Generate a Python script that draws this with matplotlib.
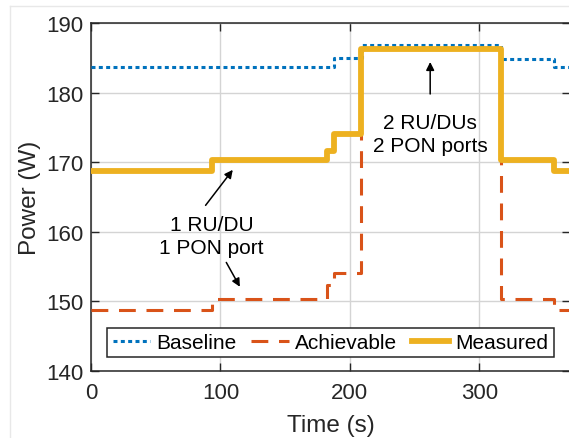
import matplotlib.pyplot as plt
from matplotlib.lines import Line2D

plt.rcParams['font.family'] = ['Liberation Sans', 'DejaVu Sans']

# step breakpoints (time in s, power in W)
t_base = [0, 188, 209, 317, 358, 370]
p_base = [183.7, 184.9, 186.8, 184.8, 183.7, 183.7]

t_ach = [0, 93.5, 182, 188, 208.5, 317, 358, 370]
p_ach = [148.8, 150.3, 152.3, 154.1, 186.3, 150.3, 148.8, 148.8]

t_meas = [0, 93.5, 182, 188, 208.5, 317, 358, 370]
p_meas = [168.8, 170.3, 171.6, 174.0, 186.3, 170.3, 168.8, 168.8]

W, H = 569, 439
fig = plt.figure(figsize=(W / 100, H / 100), dpi=100)
ax = fig.add_axes([91 / W, 1 - 372 / H, (570 - 91) / W, (372 - 24) / H])

ax.plot(t_base, p_base, drawstyle='steps-post', color='#0072BD', lw=2.2,
        linestyle=(0, (1.3, 1.1)), label='Baseline', zorder=3)
ax.plot(t_ach, p_ach, drawstyle='steps-post', color='#D95319', lw=2.2,
        linestyle=(0, (5.5, 3.5)), label='Achievable', zorder=3)
ax.plot(t_meas, p_meas, drawstyle='steps-post', color='#EDB120', lw=4.2,
        label='Measured', zorder=4)

ax.set_xlim(0, 370)
ax.set_ylim(140, 190)
ax.set_xticks([0, 100, 200, 300])
ax.set_yticks([140, 150, 160, 170, 180, 190])
ax.grid(True, color='#d4d4d4', lw=1)
ax.set_axisbelow(True)
ax.tick_params(direction='in', length=6, width=1, top=True, right=True,
               labelsize=16, colors='#262626')
ax.tick_params(axis='x', pad=8)
ax.tick_params(axis='y', pad=5.5)
for s in ax.spines.values():
    s.set_color('#262626')
    s.set_linewidth(1.1)

ax.set_xlabel('Time (s)', fontsize=17.5, color='#262626', labelpad=8)
ax.set_ylabel('Power (W)', fontsize=17.5, color='#262626', labelpad=4)

arr = dict(arrowstyle='-|>', color='black', lw=1.1, mutation_scale=12,
           shrinkA=0, shrinkB=0)
ax.annotate('', xy=(262, 184.4), xytext=(262, 179.8), arrowprops=arr)
ax.text(262, 174.1, '2 RU/DUs\n2 PON ports', ha='center', va='center',
        fontsize=15, linespacing=1.25)

ax.annotate('', xy=(109.5, 168.9), xytext=(88.5, 163.8), arrowprops=arr)
ax.annotate('', xy=(115, 152.1), xytext=(104.5, 155.6), arrowprops=arr)
ax.text(93, 159.4, '1 RU/DU\n1 PON port', ha='center', va='center',
        fontsize=15, linespacing=1.25)

leg = ax.legend(loc='lower center', bbox_to_anchor=(0.5, 0.04), ncol=3,
                fontsize=15, frameon=True, fancybox=False, framealpha=1,
                edgecolor='#262626', handlelength=1.8, handletextpad=0.3,
                columnspacing=0.7, borderpad=0.25, borderaxespad=0)
leg.get_frame().set_linewidth(1.1)

# light frame of the screenshot
fig.add_artist(Line2D([10 / W, 1], [1 - 7 / H, 1 - 7 / H], color='#e8e8e8', lw=1))
fig.add_artist(Line2D([10 / W, 10 / W], [0, 1 - 7 / H], color='#e8e8e8', lw=1))

fig.savefig('out.png', dpi=100)
